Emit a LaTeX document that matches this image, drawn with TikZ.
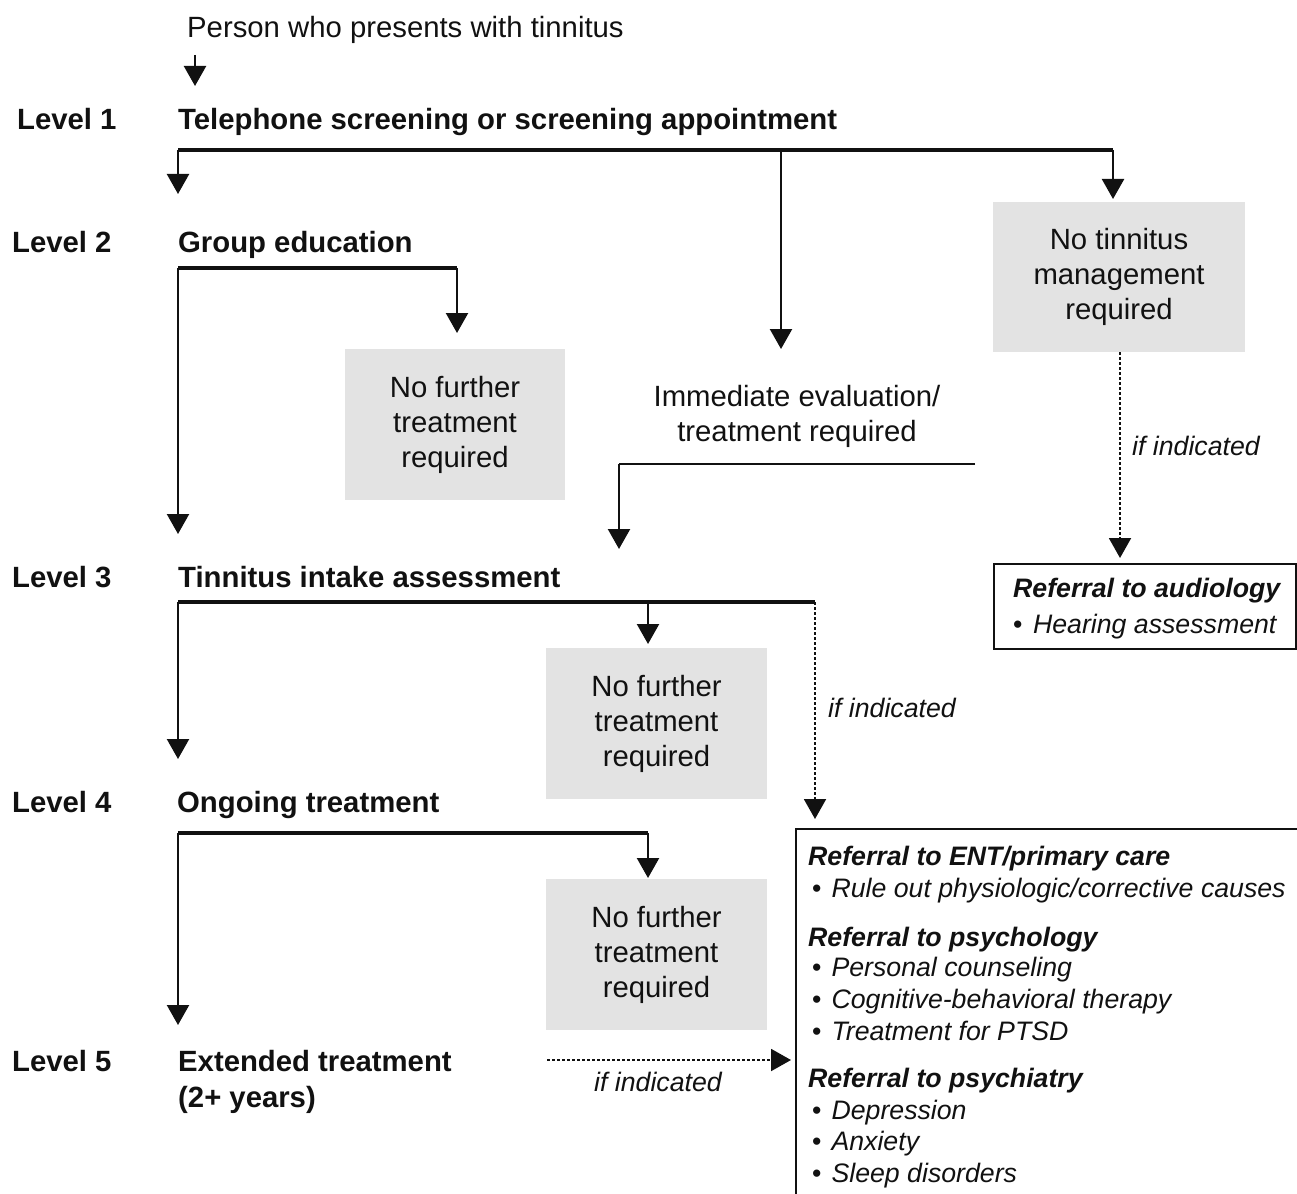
\documentclass[tikz,border=0pt]{standalone}
\usepackage{fontspec}
\setmainfont{Liberation Sans}
\usetikzlibrary{arrows.meta}
\definecolor{boxgrey}{HTML}{E3E3E3}
\definecolor{ink}{HTML}{111111}
\begin{document}
\begin{tikzpicture}[x=1pt,y=-1pt,
  every node/.style={inner sep=0pt, text=ink},
  main/.style={font=\fontsize{29.3}{35}\selectfont},
  lbl/.style={font=\fontsize{29.3}{35}\selectfont\bfseries, anchor=base west},
  heading/.style={font=\fontsize{26.7}{32}\selectfont\bfseries\itshape, anchor=base west},
  item/.style={font=\fontsize{26.7}{32}\selectfont, anchor=base west},
  ifind/.style={font=\fontsize{26.7}{32}\selectfont\itshape, anchor=base},
  greybox/.style={main, fill=boxgrey, align=center},
  arr/.style={draw=ink, line width=2.3pt, -{Triangle[width=22pt,length=20pt]}},
  thickline/.style={draw=ink, line width=4pt},
  thinline/.style={draw=ink, line width=2.3pt},
  dotarr/.style={draw=ink, line width=2pt, dash pattern=on 3pt off 2pt, -{Triangle[width=22pt,length=20pt]}}
]
\useasboundingbox (0,0) rectangle (1297,1193);
\clip (0,0) rectangle (1297,1193);

% level labels
\node[lbl] (l1) at (17,130) {Level 1};
\node[lbl] (l2) at (12,252) {Level 2};
\node[lbl] (l3) at (12,587) {Level 3};
\node[lbl] (l4) at (12,812) {Level 4};
\node[lbl] (l5) at (12,1071) {Level 5};

% main stages
\node[main, anchor=base west] (person) at (187,38) {Person who presents with tinnitus};
\node[lbl] (tel) at (178,130) {Telephone screening or screening appointment};
\node[lbl] (grp) at (178,252) {Group education};
\node[lbl] (intake) at (178,587) {Tinnitus intake assessment};
\node[lbl] (ongo) at (177,812) {Ongoing treatment};
\node[lbl] (ext) at (178,1071) {Extended treatment};
\node[lbl] (ext2) at (178,1107) {(2+ years)};

% grey boxes
\node[greybox, minimum width=252pt, minimum height=150pt] (notin) at (1119,277) {\raisebox{-2pt}{\parbox{240pt}{\centering No tinnitus\\management\\required}}};
\node[greybox, minimum width=220pt, minimum height=151pt] (nf1) at (455,424.5) {\raisebox{-2pt}{\parbox{210pt}{\centering No further\\treatment\\required}}};
\node[greybox, minimum width=221pt, minimum height=151pt] (nf2) at (656.5,723.5) {\raisebox{-2pt}{\parbox{210pt}{\centering No further\\treatment\\required}}};
\node[greybox, minimum width=221pt, minimum height=151pt] (nf3) at (656.5,954.5) {\raisebox{-2pt}{\parbox{210pt}{\centering No further\\treatment\\required}}};

\node[main, align=center] (imm) at (797,416) {Immediate evaluation/\\treatment required};

% referral boxes
\node[draw=ink, line width=2pt, minimum width=302pt, minimum height=85pt, anchor=north west] (aud) at (993,563) {};
\node[heading] (audh) at (1013,597) {Referral to audiology};
\node[item] (aud1) at (1013,633) {•\hspace{10.5pt}\textit{Hearing assessment}};

\node[draw=ink, line width=2pt, minimum width=540pt, minimum height=420pt, anchor=north west] (ref) at (795,828) {};
\node[heading] (enth) at (808,865) {Referral to ENT/primary care};
\node[item] (ent1) at (812,897) {•\hspace{10pt}\textit{Rule out physiologic/corrective causes}};
\node[heading] (psyh) at (808,946) {Referral to psychology};
\node[item] (psy1) at (812,976) {•\hspace{10pt}\textit{Personal counseling}};
\node[item] (psy2) at (812,1008) {•\hspace{10pt}\textit{Cognitive-behavioral therapy}};
\node[item] (psy3) at (812,1040) {•\hspace{10pt}\textit{Treatment for PTSD}};
\node[heading] (psih) at (808,1087) {Referral to psychiatry};
\node[item] (psi1) at (812,1119) {•\hspace{10pt}\textit{Depression}};
\node[item] (psi2) at (812,1150) {•\hspace{10pt}\textit{Anxiety}};
\node[item] (psi3) at (812,1182) {•\hspace{10pt}\textit{Sleep disorders}};

% if indicated labels
\node[ifind] (if1) at (1196,455) {if indicated};
\node[ifind] (if2) at (892,717) {if indicated};
\node[ifind] (if3) at (658,1091) {if indicated};

% coordinates
\coordinate (p0) at (195,55);
\coordinate (p1) at (195,86);
\coordinate (a0) at (178,150);
\coordinate (a1) at (781,150);
\coordinate (a2) at (1113,150);
\coordinate (a0e) at (178,194);
\coordinate (a1e) at (781,349);
\coordinate (a2e) at (1113,199);
\coordinate (n0) at (1120,352);
\coordinate (n1) at (1120,558);
\coordinate (g0) at (178,268);
\coordinate (g1) at (457,268);
\coordinate (g1e) at (457,333);
\coordinate (g0e) at (178,534);
\coordinate (i0) at (975,464);
\coordinate (i1) at (619,464);
\coordinate (i1e) at (619,549);
\coordinate (t0) at (178,602);
\coordinate (t1) at (648,602);
\coordinate (t2) at (815,602);
\coordinate (t1e) at (648,644);
\coordinate (t0e) at (178,759);
\coordinate (t2e) at (815,819);
\coordinate (o0) at (178,833);
\coordinate (o1) at (648,833);
\coordinate (o1e) at (648,878);
\coordinate (o0e) at (178,1025);
\coordinate (e0) at (547,1060);
\coordinate (e1) at (791,1060);

% connectors
\draw[arr] (p0) -- (p1);
\draw[thickline] (a0) -- (a2);
\draw[arr] (a0) -- (a0e);
\draw[arr] (a1) -- (a1e);
\draw[arr] (a2) -- (a2e);
\draw[dotarr] (n0) -- (n1);
\draw[thickline] (g0) -- (g1);
\draw[arr] (g1) -- (g1e);
\draw[arr] (g0) -- (g0e);
\draw[thinline] (i0) -- (i1);
\draw[arr] (i1) -- (i1e);
\draw[thickline] (t0) -- (t2);
\draw[arr] (t1) -- (t1e);
\draw[arr] (t0) -- (t0e);
\draw[dotarr] (t2) -- (t2e);
\draw[thickline] (o0) -- (o1);
\draw[arr] (o1) -- (o1e);
\draw[arr] (o0) -- (o0e);
\draw[dotarr] (e0) -- (e1);
\end{tikzpicture}
\end{document}
